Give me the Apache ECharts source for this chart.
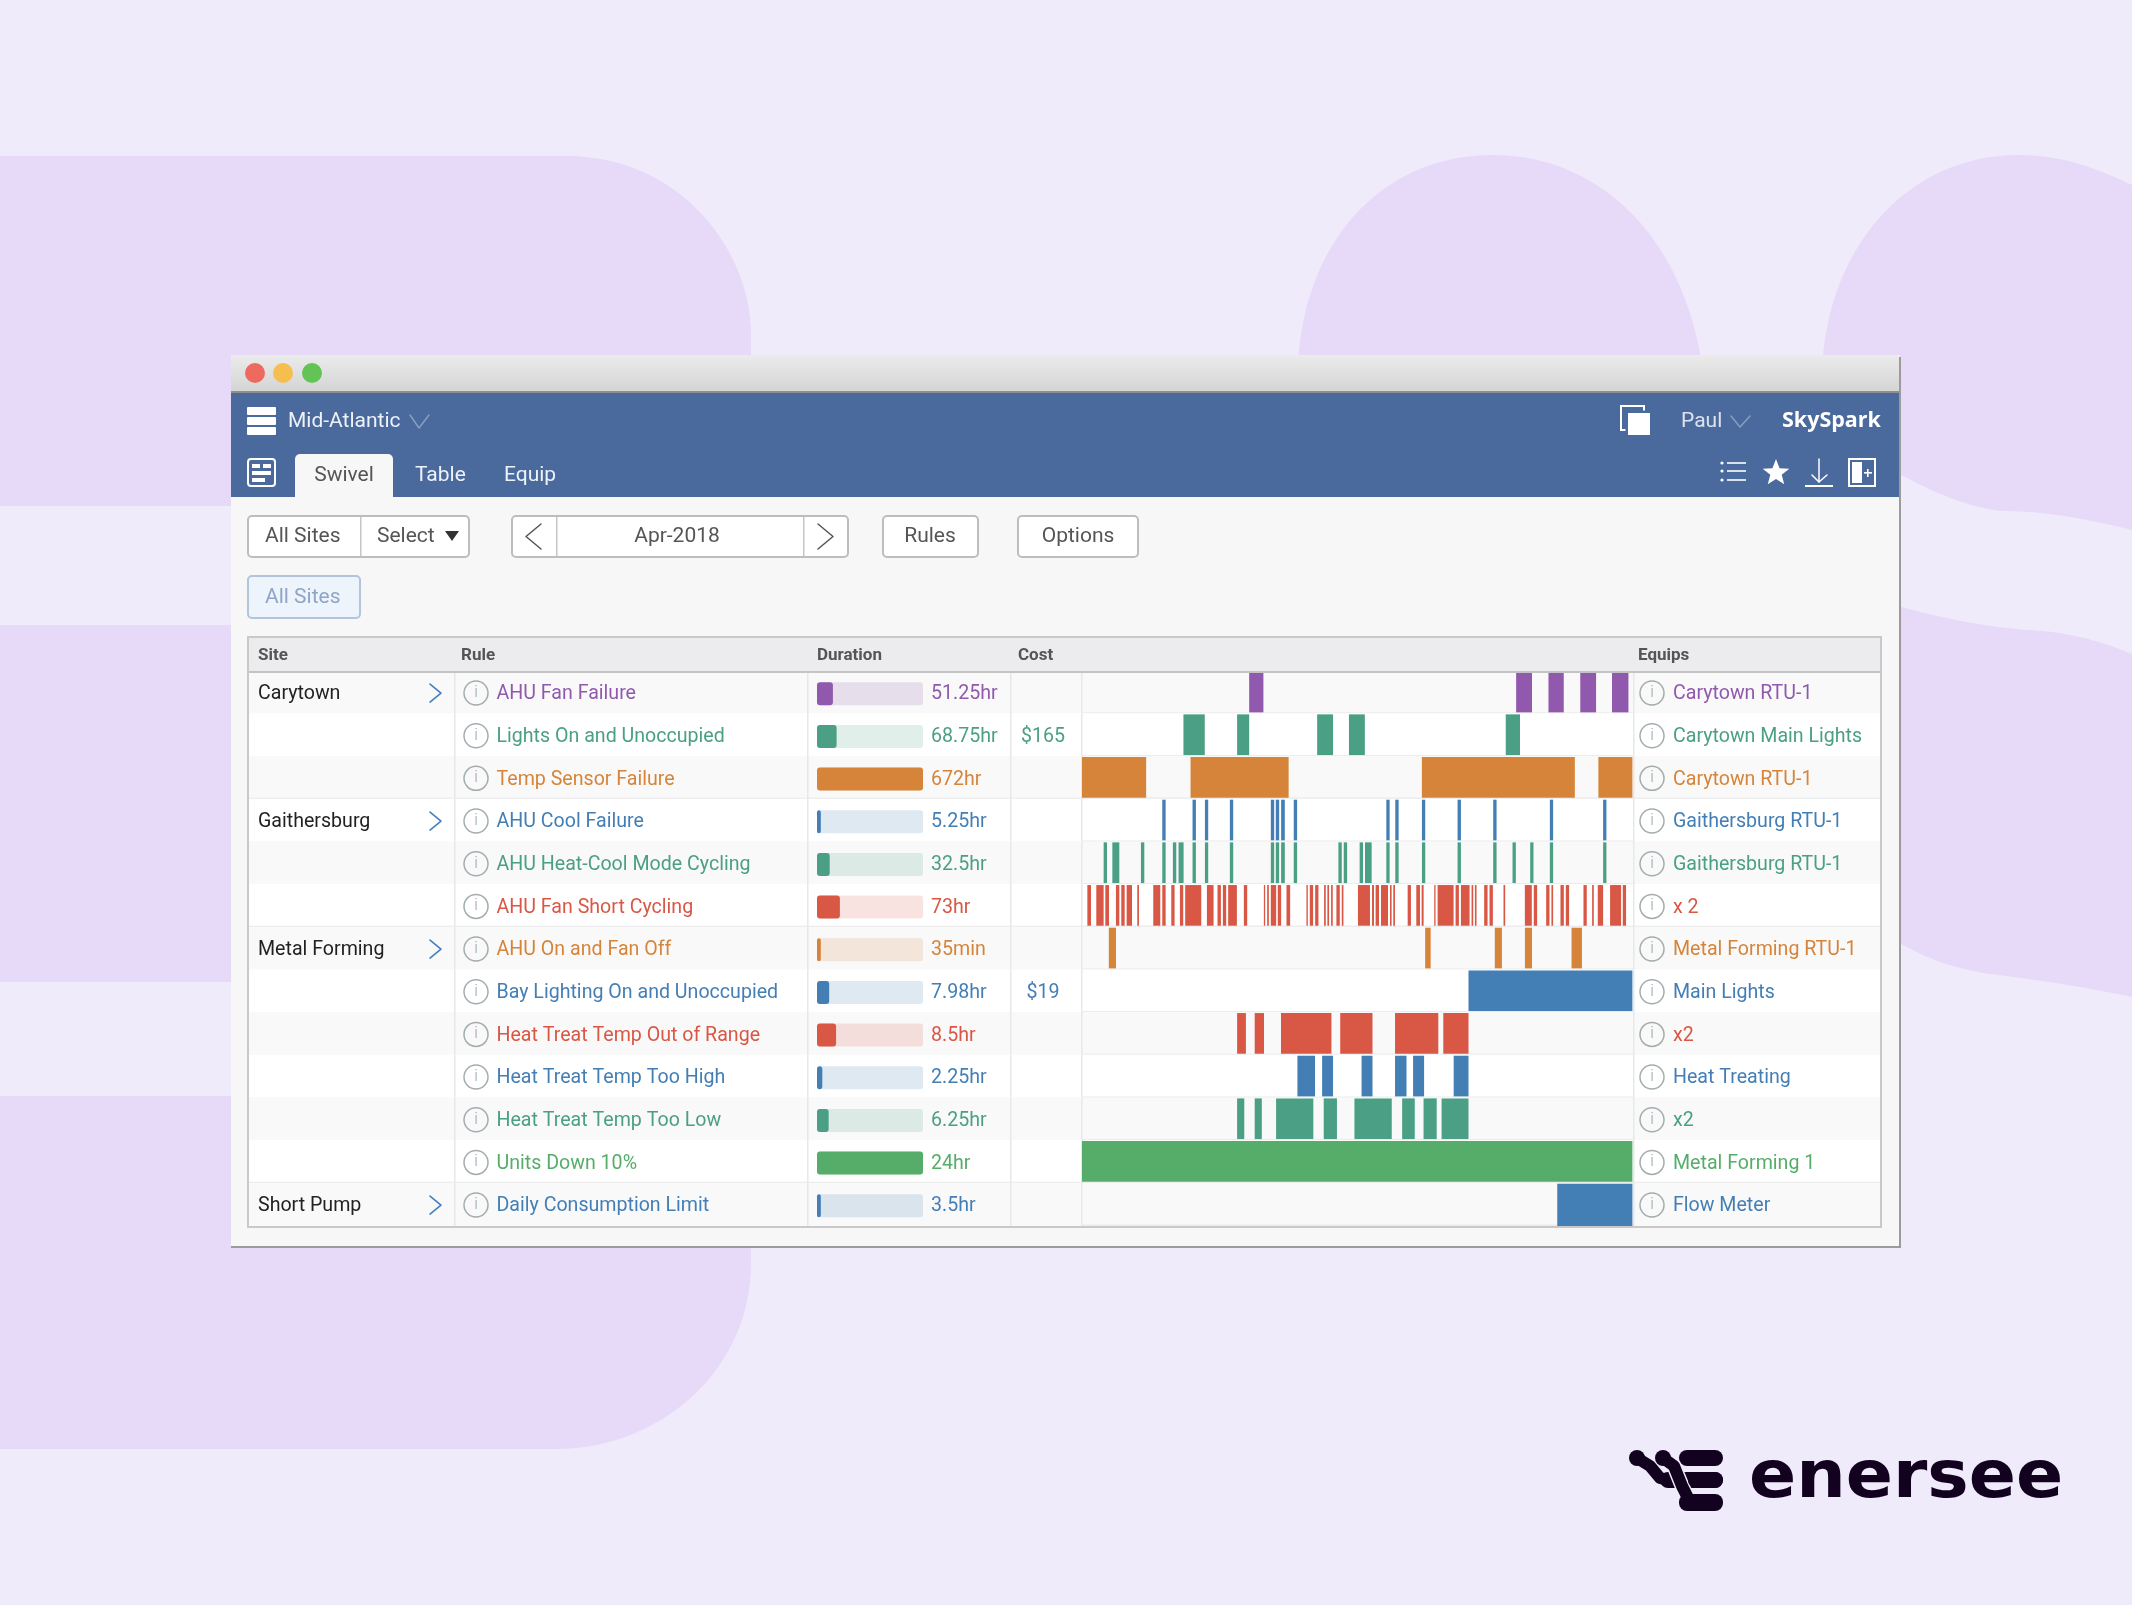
<!DOCTYPE html>
<html>
<head>
<meta charset="utf-8">
<title>SkySpark Swivel</title>
<script src="https://cdn.jsdelivr.net/npm/echarts@6/dist/echarts.min.js"></script>
<style>
  html, body { margin: 0; padding: 0; background: #f0ebfa; }
  #main { width: 2132px; height: 1605px; }
</style>
</head>
<body>
<div id="main"></div>
<script>
var headers = ['Site', 'Rule', 'Duration', 'Cost', 'Equips'];
var sites = ['Carytown', '', '', 'Gaithersburg', '', '', 'Metal Forming', '', '', '', '', '', 'Short Pump'];
var rules = ['AHU Fan Failure', 'Lights On and Unoccupied', 'Temp Sensor Failure', 'AHU Cool Failure',
  'AHU Heat-Cool Mode Cycling', 'AHU Fan Short Cycling', 'AHU On and Fan Off', 'Bay Lighting On and Unoccupied',
  'Heat Treat Temp Out of Range', 'Heat Treat Temp Too High', 'Heat Treat Temp Too Low', 'Units Down 10%',
  'Daily Consumption Limit'];
var durationLabels = ['51.25hr', '68.75hr', '672hr', '5.25hr', '32.5hr', '73hr', '35min', '7.98hr', '8.5hr',
  '2.25hr', '6.25hr', '24hr', '3.5hr'];
// bar fill in percent of the cell, as drawn (not proportional to the label)
var durationFill = [15, 18.5, 100, 3.6, 12, 21.6, 3.6, 11.5, 18, 5, 11, 100, 3.6];
var costLabels = ['', '$165', '', '', '', '', '', '$19', '', '', '', '', ''];
var equips = ['Carytown RTU-1', 'Carytown Main Lights', 'Carytown RTU-1', 'Gaithersburg RTU-1', 'Gaithersburg RTU-1',
  'x 2', 'Metal Forming RTU-1', 'Main Lights', 'x2', 'Heat Treating', 'x2', 'Metal Forming 1', 'Flow Meter'];

// fault periods in hours of the month, start/end pairs
var fanFailure = [[218.7, 237.3], [567.9, 588.7], [610.2, 630.2], [651.8, 672.5], [693.3, 714.8]];
var lightsOn = [[132.7, 160.6], [202.9, 218.7], [307.6, 328.4], [349.2, 370], [554.3, 573]];
var tempSensor = [[0, 83.9], [142, 270.3], [444.6, 644.7], [675.5, 720]];
var coolFailure = [[105, 109.4], [144.6, 149], [160.8, 165.1], [193.4, 197.8], [247, 251.4], [253.5, 257.9],
  [260.5, 265.3], [277, 281.4], [398.1, 402.4], [409.8, 414.2], [444.7, 449], [491.3, 495.7], [537.9, 542.3],
  [612, 616.3], [681.7, 686]];
var modeCycling = [[28.3, 32.7], [39.7, 48.8], [77.1, 81.5], [105, 109.4], [118.9, 123.3], [126.3, 132.9],
  [144.6, 149], [160.8, 165.1], [193.4, 197.8], [247, 251.4], [253.5, 257.9], [260.5, 265.3], [277, 281.4],
  [335.4, 339.8], [342.4, 346.8], [363.2, 367.6], [370.2, 378.9], [398.1, 402.4], [409.8, 414.2], [444.7, 449],
  [491.3, 495.7], [537.9, 542.3], [563.2, 567.5], [586.3, 590.6], [612, 616.3], [681.7, 686]];
var shortCycling = [[7, 11.8], [18.7, 28.3], [30.5, 35.3], [44.4, 48.8], [51.4, 55.8], [58.4, 65.4], [72.3, 74.5],
  [93.2, 102.4], [105, 109.4], [116.8, 121.1], [128.1, 132.4], [135, 156], [163.4, 172.1], [177.3, 181.7],
  [184.3, 188.6], [191.2, 202.6], [211.7, 216.1], [237.9, 239.6], [242.2, 244.4], [247, 254], [256.1, 260.5],
  [267.5, 272.3], [293.6, 295.4], [298, 302.3], [305, 309.3], [316.7, 318.9], [321, 323.2], [325.8, 328],
  [332.8, 337.2], [339.8, 342], [361, 376.7], [379.4, 382], [384.1, 388.5], [391.1, 400.3], [402.9, 405],
  [407.2, 409.4], [426, 430.3], [437.3, 442.1], [444.3, 446.9], [460.8, 462.5], [465.2, 486.1], [488.7, 493],
  [495.7, 507], [509.6, 511.8], [514, 516.1], [526.1, 530.5], [533.1, 537.5], [551.4, 553.6], [579.3, 588.4],
  [591, 595.4], [607.2, 611.5], [614.1, 616.3], [625.9, 630.3], [632.9, 637.2], [656, 660.3], [667.3, 669.5],
  [674.7, 681.7], [690.8, 705.2], [707.4, 711.7]];
var fanOff = [[35.1, 44.5], [448.9, 456.1], [540, 549.3], [579.4, 588.7], [640.4, 654]];
var bayLighting = [[505.6, 720]];
var outOfRange = [[202.9, 214.4], [225.9, 238.1], [260.3, 326.3], [337.8, 380], [409.5, 466.1], [472.6, 505.6]];
var tooHigh = [[281.8, 304.8], [314.1, 328.4], [365.7, 380], [409.5, 424.5], [433.1, 447.5], [486.2, 505.6]];
var tooLow = [[202.9, 212.3], [225.9, 235.2], [253.9, 302.6], [316.2, 333.5], [356.4, 405.2], [418.8, 435.3],
  [446.8, 464], [470.4, 505.6]];
var unitsDown = [[0, 720]];
var consumption = [[621.7, 720]];
var rowSpans = [fanFailure, lightsOn, tempSensor, coolFailure, modeCycling, shortCycling, fanOff, bayLighting,
  outOfRange, tooHigh, tooLow, unitsDown, consumption];

var PURPLE = '#9059ae', TEAL = '#4a9f85', ORANGE = '#d68439', BLUE = '#437eb4', RED = '#d95745', GREEN = '#56ad69';
var rowColors = [PURPLE, TEAL, ORANGE, BLUE, TEAL, RED, ORANGE, BLUE, RED, BLUE, TEAL, GREEN, BLUE];

var FONT = 'Roboto, sans-serif';
var BG = '#f0ebfa', BLOB = '#e7d9f8', NAV = '#4a6a9d';
var TABLE_LEFT = 247, TABLE_WIDTH = 1634, TABLE_TOP = 670.7, TABLE_HEIGHT = 554.7;
var LAST_ROW_EXTRA = 1.5;

function txt(x, y, text, fill, size, extra) {
  var e = extra || {};
  return {
    type: 'text', z: e.z || 0, x: x, y: y + 1, scaleX: e.scaleX || 1,
    style: {
      x: 0, y: 0, text: text, fill: fill,
      font: (e.weight || 'normal') + ' ' + size + 'px ' + (e.family || FONT),
      align: e.align || 'left', verticalAlign: 'middle',
      textAlign: e.align || 'left', textVerticalAlign: 'middle'
    }
  };
}
function rect(x, y, w, h, fill, extra) {
  var e = extra || {};
  return {
    type: 'rect', z: e.z || 0,
    shape: { x: x, y: y, width: w, height: h, r: e.r || 0 },
    style: { fill: fill, stroke: e.stroke, lineWidth: e.lineWidth }
  };
}
// blob outline: first item is the start, then [x,y] lines or [x1,y1,x2,y2,x,y] curves
function blob(parts) {
  var pts = [parts[0]];
  parts.slice(1).forEach(function (p) {
    if (p.length === 2) { pts.push(p); return; }
    var a = pts[pts.length - 1];
    for (var k = 1; k <= 30; k++) {
      var t = k / 30, u = 1 - t;
      pts.push([
        u * u * u * a[0] + 3 * u * u * t * p[0] + 3 * u * t * t * p[2] + t * t * t * p[4],
        u * u * u * a[1] + 3 * u * u * t * p[1] + 3 * u * t * t * p[3] + t * t * t * p[5]
      ]);
    }
  });
  return { type: 'polygon', shape: { points: pts }, style: { fill: BLOB } };
}
function pline(points, color, width, z) {
  return {
    type: 'polyline', z: z || 0, shape: { points: points },
    style: { stroke: color, lineWidth: width || 1.5, fill: null, lineCap: 'round', lineJoin: 'round' }
  };
}
function button(x, w, y, h, fill, stroke) {
  return rect(x + 1, y, w - 1, h, fill || '#fff', { r: 4, stroke: stroke || '#bdbdbd', lineWidth: 2 });
}
function star(cx, cy, r, r0) {
  var pts = [];
  for (var k = 0; k < 10; k++) {
    var a = -Math.PI / 2 + k * Math.PI / 5, d = k % 2 ? r0 : r;
    pts.push([cx + d * Math.cos(a), cy + d * Math.sin(a)]);
  }
  return { type: 'polygon', shape: { points: pts }, style: { fill: '#fff' } };
}

function chromeElements() {
  var els = [];
  var white = '#eef1f6', dim = 'rgba(255,255,255,0.35)';

  // page background shapes
  els.push(blob([[0, 156], [566, 156], [680, 156, 751, 250, 751, 335], [751, 400], [400, 400], [400, 506], [0, 506]]));
  els.push(rect(0, 625, 400, 357, BLOB));
  els.push(blob([[0, 1096], [751, 1096], [751, 1263], [751, 1370, 660, 1449, 556, 1449], [0, 1449]]));
  els.push(blob([[1298, 400], [1290, 260, 1370, 155, 1493, 155], [1600, 155, 1695, 240, 1706, 400]]));
  els.push(blob([[1822, 400], [1815, 260, 1900, 155, 2019, 155], [2065, 155, 2100, 170, 2132, 185], [2132, 530],
    [2090, 520, 2050, 511, 2000, 511], [1960, 505, 1930, 490, 1901, 475], [1822, 475]]));
  els.push(blob([[1800, 607], [1901, 607], [1950, 620, 1990, 628, 2043, 631], [2080, 635, 2105, 643, 2132, 654], [2132, 997],
    [2090, 988, 2040, 980, 1990, 974], [1950, 968, 1925, 957, 1901, 944], [1800, 944]]));

  // window
  els.push(rect(231, 355, 1669, 892, '#f7f7f7', { r: 2 }));
  els.push(rect(1899, 357, 2, 890, '#9b9b9b'));
  els.push(rect(231, 1246, 1670, 2, '#9b9b9b'));
  els.push({
    type: 'rect', shape: { x: 231, y: 355, width: 1668, height: 37, r: [3, 3, 0, 0] },
    style: { fill: new echarts.graphic.LinearGradient(0, 0, 0, 1, [{ offset: 0, color: '#ebebeb' }, { offset: 1, color: '#d4d4d4' }]) }
  });
  els.push(rect(231, 391, 1668, 2, '#8f8f8f'));
  [[255, '#ee6a5f'], [283, '#f6bd4f'], [312, '#61c454']].forEach(function (d) {
    els.push({ type: 'circle', shape: { cx: d[0], cy: 373, r: 10 }, style: { fill: d[1] } });
  });

  // blue nav bands
  els.push(rect(231, 393, 1668, 104, NAV));
  els.push(rect(295, 454, 98, 44, '#f7f7f7', { r: [5, 5, 0, 0] }));
  [407, 417, 427].forEach(function (y) { els.push(rect(247, y, 29, 8, '#fff', { r: 1 })); });
  els.push(rect(248, 459, 27, 27, 'none', { r: 3, stroke: '#fff', lineWidth: 2 }));
  els.push(rect(252, 464, 8, 4, '#fff'));
  els.push(rect(263, 464, 8, 4, '#fff'));
  els.push(rect(252, 471, 19, 4, '#fff'));
  els.push(rect(252, 478, 13, 4, '#fff'));
  els.push(txt(288, 421, 'Mid-Atlantic', white, 21));
  els.push(pline([[410, 415], [419, 428], [429, 415]], dim));
  els.push(txt(344, 475, 'Swivel', '#555', 21, { align: 'center' }));
  els.push(txt(415, 475, 'Table', white, 21));
  els.push(txt(504, 475, 'Equip', white, 21));

  els.push(rect(1621, 406, 23, 24, 'none', { stroke: '#fff', lineWidth: 2 }));
  els.push(rect(1625.5, 410.5, 27, 27, NAV));
  els.push(rect(1628, 413, 22, 22, '#fff'));
  els.push(txt(1681, 421, 'Paul', '#dde3ec', 21));
  els.push(pline([[1731, 416], [1740, 427], [1750, 416]], dim));
  els.push(txt(1782, 420, 'SkySpark', '#fff', 21.5, { weight: 'bold', family: '"Open Sans"' }));

  [463, 471, 480].forEach(function (y) {
    els.push({ type: 'circle', shape: { cx: 1722, cy: y, r: 1.6 }, style: { fill: '#fff' } });
    els.push(rect(1727, y - 0.8, 19, 1.6, '#fff'));
  });
  els.push(star(1776, 473, 14, 6));
  els.push(pline([[1819, 459], [1819, 482]], '#fff', 1.5));
  els.push(pline([[1812, 475], [1819, 482], [1827, 475]], '#fff', 1.5));
  els.push(rect(1805, 485, 28, 2, '#fff'));
  els.push(rect(1849, 459, 26, 27, 'none', { stroke: '#fff', lineWidth: 2 }));
  els.push(rect(1852, 462, 10, 21, '#fff'));
  els.push(rect(1864, 472, 8, 1.6, '#fff'));
  els.push(rect(1867, 469, 1.6, 8, '#fff'));

  // toolbar
  els.push(button(247, 222, 516, 41));
  els.push(rect(360, 517, 1.5, 39, '#c6c6c6'));
  els.push(txt(265, 536, 'All Sites', '#555', 21));
  els.push(txt(377, 536, 'Select', '#555', 21));
  els.push({ type: 'polygon', shape: { points: [[445, 531], [459, 531], [452, 541]] }, style: { fill: '#333' } });
  els.push(button(511, 337, 516, 41));
  els.push(rect(556, 517, 1.5, 39, '#c6c6c6'));
  els.push(rect(803, 517, 1.5, 39, '#c6c6c6'));
  els.push(pline([[541, 524], [526, 536.5], [541, 549]], '#555', 1.5));
  els.push(pline([[818, 524], [833, 536.5], [818, 549]], '#555', 1.5));
  els.push(txt(677, 536, 'Apr-2018', '#555', 21, { align: 'center' }));
  els.push(button(882, 96, 516, 41));
  els.push(txt(930, 536, 'Rules', '#555', 21, { align: 'center' }));
  els.push(button(1017, 121, 516, 41));
  els.push(txt(1078, 536, 'Options', '#555', 21, { align: 'center' }));
  els.push(button(247, 113, 576, 42, '#eef4fc', '#b3c5dc'));
  els.push(txt(265, 597, 'All Sites', '#8ea6c4', 21));

  // table header sits above the rows
  els.push(rect(TABLE_LEFT, 637, TABLE_WIDTH, 35, '#ececee', { z: 10 }));
  els.push(rect(TABLE_LEFT, 636, TABLE_WIDTH, 2, '#c4c4c4', { z: 10 }));
  els.push(rect(TABLE_LEFT, 671, TABLE_WIDTH, 2, '#c4c4c4', { z: 10 }));
  [258, 461, 817, 1018, 1638].forEach(function (x, i) {
    els.push(txt(x, 655, headers[i], '#555', 17, { weight: 'bold', z: 11 }));
  });

  // table outline
  els.push(rect(TABLE_LEFT + 1, 637, TABLE_WIDTH - 1, 590, 'none', { stroke: '#c9c9c9', lineWidth: 2, z: 10 }));

  // enersee logo
  var ink = '#12011f';
  var channel = [[1663, 1458], [1674, 1466], [1682, 1486], [1690, 1502], [1700, 1502]];
  els.push(rect(1679, 1450, 44, 16, ink, { r: 8 }));
  els.push({ type: 'circle', shape: { cx: 1637, cy: 1458, r: 8 }, style: { fill: ink } });
  els.push(pline([[1637, 1458], [1650, 1466], [1660, 1478], [1668, 1480]], ink, 12));
  els.push(rect(1660, 1472, 63, 16, ink, { r: 8 }));
  els.push(pline(channel, BG, 15));
  els.push({ type: 'circle', shape: { cx: 1663, cy: 1458, r: 8 }, style: { fill: ink } });
  els.push(pline(channel, ink, 12));
  els.push(rect(1688, 1472, 35, 16, ink, { r: 8 }));
  els.push(rect(1679, 1494, 44, 17, ink, { r: 8 }));
  els.push(txt(1749, 1479, 'enersee', ink, 66, { weight: 'bold', family: '"DejaVu Sans"', scaleX: 1.055 }));
  return els;
}

// one table row: stripes, rules, site/rule/cost/equip text
function renderRow(params, api) {
  var i = api.value(1);
  var c = api.coord([0, i]);
  var h = api.size([0, 1])[1];
  var top = c[1] - h / 2, mid = c[1] + 1.5, iconMid = c[1] + 1;
  var col = rowColors[i];
  var left = c[0];
  var full = h + (i === 12 ? LAST_ROW_EXTRA : 0);
  var kids = [];
  function X(v) { return left + v; }

  kids.push(rect(X(0), top, TABLE_WIDTH, full, i % 2 === 0 ? '#f9f9f9' : '#fff'));
  [207, 560, 763, 834, 1386].forEach(function (x) {
    kids.push(rect(X(x), top, 1.5, full, '#e8e8e8'));
  });
  // line between timeline cells
  kids.push(rect(X(834), top + h - 1, 552, 1.5, '#ececec'));
  if (i === 2 || i === 5 || i === 11) {
    kids.push(rect(X(0), top + h - 1, TABLE_WIDTH, 2.5, '#e8e8e8'));
  }

  if (sites[i]) {
    kids.push(txt(X(11), mid, sites[i], '#222', 19.6));
    kids.push(pline([[X(183), iconMid - 9], [X(194), iconMid], [X(183), iconMid + 9]], '#4a7fb8', 1.6));
  }
  [229, 1405].forEach(function (x) {
    kids.push({ type: 'circle', shape: { cx: X(x), cy: iconMid, r: 12 }, style: { fill: 'none', stroke: '#a3adb0', lineWidth: 1.5 } });
    kids.push(txt(X(x), iconMid - 1, 'i', '#9aa5a8', 16, { align: 'center', weight: '300' }));
  });
  kids.push(txt(X(249.5), mid, rules[i], col, 19.6));
  kids.push(txt(X(684), mid, durationLabels[i], col, 19.6));
  if (costLabels[i]) kids.push(txt(X(796), mid, costLabels[i], col, 19.6, { align: 'center' }));
  kids.push(txt(X(1426), mid, equips[i], col, 19.6));
  return { type: 'group', children: kids };
}

function renderSpan(params, api) {
  var row = api.value(2);
  var a = api.coord([api.value(0), row]);
  var b = api.coord([api.value(1), row]);
  var h = api.size([0, 1])[1];
  return {
    type: 'rect',
    shape: { x: a[0], y: a[1] - h / 2 + 1, width: b[0] - a[0], height: h - 2 + (row === 12 ? LAST_ROW_EXTRA : 0) },
    style: { fill: rowColors[row] }
  };
}

var rowIndex = rules.map(function (r, i) { return [0, i]; });
var spanData = [];
rowSpans.forEach(function (spans, row) {
  spans.forEach(function (s) { spanData.push([s[0], s[1], row]); });
});

function hiddenCategory(gridIndex) {
  return { type: 'category', gridIndex: gridIndex, data: rules, inverse: true, show: false };
}

var chart = echarts.init(document.getElementById('main'), null, { renderer: 'canvas' });
chart.setOption({
  animation: false,
  backgroundColor: BG,
  graphic: { elements: chromeElements() },
  grid: [
    { left: TABLE_LEFT, top: TABLE_TOP, width: TABLE_WIDTH, height: TABLE_HEIGHT },
    { left: 1082, top: TABLE_TOP, width: 550.4, height: TABLE_HEIGHT },
    { left: 817, top: TABLE_TOP + 1.7, width: 106, height: TABLE_HEIGHT }
  ],
  xAxis: [
    { type: 'value', gridIndex: 0, min: 0, max: TABLE_WIDTH, show: false },
    { type: 'value', gridIndex: 1, min: 0, max: 720, show: false },
    { type: 'value', gridIndex: 2, min: 0, max: 100, show: false }
  ],
  yAxis: [hiddenCategory(0), hiddenCategory(1), hiddenCategory(2)],
  series: [
    {
      name: 'rows', type: 'custom', xAxisIndex: 0, yAxisIndex: 0, z: 1, silent: true,
      data: rowIndex, encode: { x: 0, y: 1 }, renderItem: renderRow
    },
    {
      name: 'periods', type: 'custom', xAxisIndex: 1, yAxisIndex: 1, z: 3, silent: true,
      data: spanData, encode: { x: [0, 1], y: 2 }, renderItem: renderSpan
    },
    {
      name: 'track', type: 'bar', xAxisIndex: 2, yAxisIndex: 2, z: 3, silent: true, barWidth: 23, barGap: '-100%',
      data: rules.map(function (r, i) {
        return { value: 100, itemStyle: { color: rowColors[i], opacity: 0.17, borderRadius: 3 } };
      })
    },
    {
      name: 'duration', type: 'bar', xAxisIndex: 2, yAxisIndex: 2, z: 4, silent: true, barWidth: 23, barGap: '-100%',
      data: durationFill.map(function (v, i) {
        return { value: v, itemStyle: { color: rowColors[i], borderRadius: 3 } };
      })
    }
  ]
});
</script>
</body>
</html>
